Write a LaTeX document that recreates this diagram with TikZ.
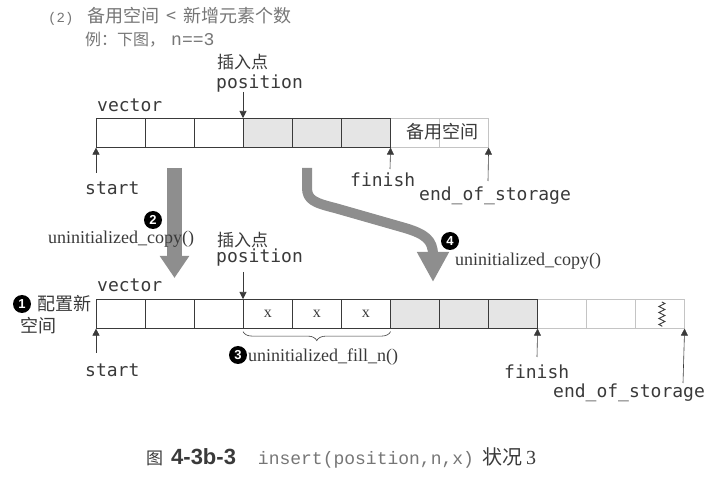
\documentclass[tikz,border=0pt]{standalone}
\usepackage{fontspec}
\setmainfont{Liberation Serif}
\newfontfamily\cjk{Noto Sans CJK SC}
\newfontfamily\lab{DejaVu Sans Mono}
\newfontfamily\cour{Liberation Mono}
\newfontfamily\hv{Liberation Sans}
\usetikzlibrary{arrows.meta}
\usetikzlibrary{calc}
\usetikzlibrary{positioning}
\usetikzlibrary{decorations.pathmorphing}
\usetikzlibrary{decorations.pathreplacing}
\definecolor{ink}{HTML}{3A3A3A}
\definecolor{soft}{HTML}{767676}
\definecolor{shade}{HTML}{E5E5E5}
\definecolor{faint}{HTML}{C4C4C4}
\definecolor{bigarr}{HTML}{8E8E8E}
\newcommand{\us}{{\char"5F}}

\begin{document}
\begin{tikzpicture}[x=1pt,y=-1pt]

		\tikzset{cell/.style = {shape=rectangle,draw=ink,line width=0.6pt,minimum width=49pt,minimum height=29pt,inner sep=0pt,anchor=north west}}
		\tikzset{lbl/.style = {font=\lab\fontsize{18}{20}\selectfont,text=ink,inner sep=0pt,anchor=west}}
		\tikzset{zh/.style = {font=\cjk\fontsize{17}{19}\selectfont,text=ink,inner sep=0pt,anchor=west}}
		\tikzset{fn/.style = {font=\fontsize{18}{20}\selectfont,text=ink,inner sep=0pt,anchor=west}}
		\tikzset{numc/.style = {shape=circle,fill=black,text=white,font=\hv\bfseries\fontsize{13}{13}\selectfont,inner sep=0pt,minimum size=18pt}}
		\tikzset{ptr/.style = {draw=ink,line width=0.6pt,-{Triangle[width=7pt,length=7pt]}}}
		\tikzset{bigarrow/.style = {draw=bigarr,line join=round}}

		\useasboundingbox (0,0) rectangle (705,478);

		% heading
		\node[anchor=west,inner sep=0pt,text=soft] (head1) at (48,16) {{\cour\fontsize{14}{16}\selectfont(2)}\hspace{14pt}{\cjk\fontsize{18}{20}\selectfont 备用空间\hspace{7pt}<\hspace{7pt}新增元素个数}};
		\node[anchor=west,inner sep=0pt,text=soft] (head2) at (85,40) {{\cjk\fontsize{16}{18}\selectfont 例：下图，}\hspace{6pt}{\cour\fontsize{18}{20}\selectfont n==3}};

		% big arrows (behind the texts)
		\coordinate (a2s) at (174.5,168);
		\coordinate (a2e) at (174.5,278);
		\draw[bigarrow,line width=15pt,-{Triangle[width=28pt,length=22pt]}] (a2s) -- (a2e);
		\coordinate (a4s) at (307,168);
		\coordinate (a4e) at (433,282);
		\draw[bigarrow,line width=10pt,-{Triangle[width=30pt,length=30pt]}] (a4s) -- (307,188) .. controls (307,200) and (315,203) .. (335,208) -- (405,228) .. controls (425,234) and (433,240) .. (433,255) -- (a4e);

		% old vector
		\foreach \i in {6,7}
			\node[cell,draw=faint] (t\i) at ({96+49*\i},118) {};
		\foreach \i in {0,1,2}
			\node[cell] (t\i) at ({96+49*\i},118) {};
		\foreach \i in {3,4,5}
			\node[cell,fill=shade] (t\i) at ({96+49*\i},118) {};
		\node[zh,anchor=center,font=\cjk\fontsize{18}{20}\selectfont] (spare) at (442,132) {备用空间};

		\node[lbl] (vec1) at (97,105) {vector};
		\node[zh] (ins1) at (217,62) {插入点};
		\node[lbl] (pos1) at (216,84) {position};
		\node[lbl] (start1) at (85,188) {start};
		\node[lbl] (fin1) at (350,180) {finish};
		\node[lbl] (eos1) at (419,196) {end\us of\us storage};

		\coordinate (tp) at (243,92);
		\coordinate (ts) at (96,173);
		\coordinate (tf) at (390,169);
		\coordinate (te) at (488,181);
		\draw[ptr] (tp) -- (t3.north west);
		\draw[ptr] (ts) -- (t0.south west);
		\draw[ptr] (tf) -- (t5.south east);
		\draw[ptr] (te) -- (t7.south east);

		% new vector
		\foreach \i in {9,10,11}
			\node[cell,draw=faint] (b\i) at ({96+49*\i},299) {};
		\foreach \i in {0,...,5}
			\node[cell] (b\i) at ({96+49*\i},299) {};
		\foreach \i in {6,7,8}
			\node[cell,fill=shade] (b\i) at ({96+49*\i},299) {};
		\foreach \i in {3,4,5}
			\node[fn,anchor=center,font=\fontsize{16}{18}\selectfont] (x\i) at (b\i) {x};
		\draw[ink,line width=0.9pt,decorate,decoration={zigzag,segment length=6pt,amplitude=3pt}] ($(b11.north)+(2,3)$) -- ($(b11.south)+(2,-2)$);

		\node[lbl] (vec2) at (97,285) {vector};
		\node[zh] (ins2) at (217,240) {插入点};
		\node[lbl] (pos2) at (216,258) {position};
		\node[lbl] (start2) at (85,370) {start};
		\node[lbl] (fin2) at (504,372) {finish};
		\node[lbl] (eos2) at (553,393) {end\us of\us storage};

		\coordinate (bp) at (243,272);
		\coordinate (bs) at (96,353);
		\coordinate (bf) at (537,357);
		\coordinate (be) at (683,383);
		\draw[ptr] (bp) -- (b3.north west);
		\draw[ptr] (bs) -- (b0.south west);
		\draw[ptr] (bf) -- (b8.south east);
		\draw[ptr] (be) -- (b11.south east);

		% steps
		\node[numc] (n1) at (22,304) {1};
		\node[zh,font=\cjk\fontsize{18}{20}\selectfont] (alloc1) at (37,304) {配置新};
		\node[zh,font=\cjk\fontsize{18}{20}\selectfont] (alloc2) at (20,326) {空间};

		\node[numc] (n2) at (153,220) {2};
		\node[fn] (copy1) at (48,239) {uninitialized\_copy()};

		\draw[ink,line width=0.6pt,decorate,decoration={brace,mirror,amplitude=9pt}] ($(b3.south west)+(0,3)$) -- ($(b5.south east)+(0,3)$);
		\node[numc] (n3) at (238,355) {3};
		\node[fn] (fill3) at (248,357) {uninitialized\_fill\_n()};

		\node[numc] (n4) at (450,241) {4};
		\node[fn] (copy4) at (455,261) {uninitialized\_copy()};

		% caption
		\node[anchor=west,inner sep=0pt,text=ink] (cap) at (146,458) {{\cjk\fontsize{17}{19}\selectfont 图}\hspace{8pt}{\hv\bfseries\fontsize{22}{24}\selectfont 4-3b-3}\hspace{22pt}{\cour\color{soft}\fontsize{18}{20}\selectfont insert(position,n,x)}\hspace{8pt}{\cjk\fontsize{20}{22}\selectfont 状况}\hspace{4pt}{\fontsize{20}{22}\selectfont 3}};

\end{tikzpicture}
\end{document}
